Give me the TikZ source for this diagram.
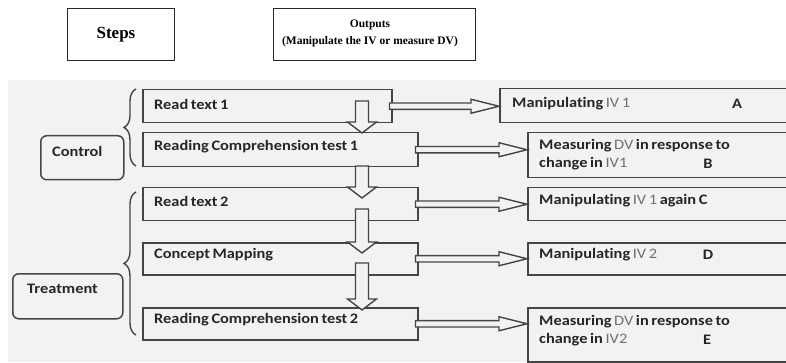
\documentclass[tikz,border=0pt]{standalone}
\usepackage{fontspec}
\setmainfont[FakeStretch=1.13, WordSpace=0.7, Ligatures=NoCommon]{Carlito}
\newfontfamily\tnr{Liberation Serif}
\usetikzlibrary{calc,decorations.pathreplacing}
\definecolor{bg}{HTML}{F2F2F2}
\definecolor{ln}{HTML}{454545}
\definecolor{tx}{HTML}{262626}
\definecolor{ivc}{HTML}{707070}
\newcommand\ivt[1]{{\mdseries\color{ivc}#1}}
\newcommand\hblk[2]{\draw[blk] let \p1=(#1.east), \p2=(#2.west) in
  (\x1-3pt,\y1+3.2pt) -- (\x2-28pt,\y1+3.2pt) -- (\x2-28pt,\y1+7pt) -- (\x2,\y1)
  -- (\x2-28pt,\y1-7pt) -- (\x2-28pt,\y1-3.2pt) -- (\x1-3pt,\y1-3.2pt) -- cycle;}
\newcommand\vblk[2]{\draw[blk] let \p1=(#1), \p2=(#2) in
  (\x1-6.5pt,\y1) -- (\x1+6.5pt,\y1) -- (\x1+6.5pt,\y2+11pt) -- (\x1+14.5pt,\y2+11pt)
  -- (\x1,\y2) -- (\x1-14.5pt,\y2+11pt) -- (\x1-6.5pt,\y2+11pt) -- cycle;}
\begin{document}
\begin{tikzpicture}[x=1pt,y=-1pt,
  font=\fontsize{14.5}{17}\selectfont\bfseries, text=tx,
  sbox/.style={draw=ln, line width=1.5pt, fill=bg, anchor=north west, inner sep=0pt},
  topbox/.style={draw=black!85, line width=1.4pt, fill=white, anchor=north west, inner sep=0pt},
  grp/.style={draw=ln, line width=1.5pt, fill=bg, anchor=north west, inner sep=0pt, rounded corners=6pt},
  lbl/.style={anchor=west, inner sep=0pt},
  blk/.style={draw=ln, fill=bg, line width=1.4pt, line join=miter},
  brc/.style={draw=ln, line width=1.4pt, decorate, decoration={brace, amplitude=12pt}}]
\useasboundingbox (0,0) rectangle (786,363);
\clip (0,0) rectangle (786,363);
% background panel
\fill[bg] (8,80) rectangle (800,362);
% header boxes
\node[topbox, minimum width=107pt, minimum height=52pt] (hs) at (67,8) {};
\node[font=\tnr\fontsize{17}{20}\selectfont\bfseries, text=black] (hst) at (116,35) {Steps};
\node[topbox, minimum width=202pt, minimum height=52pt] (ho) at (273,8) {};
\node[font=\tnr\fontsize{11.5}{17}\selectfont\bfseries, text=black, align=center] (hot) at (370,33.5) {Outputs\\(Manipulate the IV or measure DV)};
% step boxes
\node[sbox, minimum width=249pt, minimum height=33pt] (s1) at (142,89) {};
\node[sbox, minimum width=275pt, minimum height=34pt] (s2) at (142,132) {};
\node[sbox, minimum width=275pt, minimum height=33pt] (s3) at (142,187) {};
\node[sbox, minimum width=275pt, minimum height=32pt] (s4) at (142,242) {};
\node[sbox, minimum width=275pt, minimum height=32pt] (s5) at (142,307) {};
\node[lbl] (t1) at (154,104) {Read text 1};
\node[lbl] (t2) at (154,147) {Reading Comprehension test 1};
\node[lbl] (t3) at (154,201) {Read text 2};
\node[lbl] (t4) at (154,255) {Concept Mapping};
\node[lbl] (t5) at (154,320) {Reading Comprehension test 2};
% output boxes
\node[sbox, minimum width=300pt, minimum height=34pt] (o1) at (499,88) {};
\node[sbox, minimum width=300pt, minimum height=45pt] (o2) at (527,132) {};
\node[sbox, minimum width=300pt, minimum height=33pt] (o3) at (527,187) {};
\node[sbox, minimum width=300pt, minimum height=32pt] (o4) at (527,242) {};
\node[sbox, minimum width=300pt, minimum height=54pt] (o5) at (527,307) {};
\node[lbl] (u1) at (512,104) {Manipulating \ivt{IV 1}};
\node (la) at (737,104) {A};
\node[lbl] (u2a) at (539,146) {Measuring \ivt{DV} in response to};
\node[lbl] (u2b) at (539,164) {change in \ivt{IV1}};
\node (lb) at (708,164) {B};
\node[lbl] (u3) at (539,201) {Manipulating \ivt{IV 1} again C};
\node[lbl] (u4) at (539,255) {Manipulating \ivt{IV 2}};
\node (ld) at (708,255) {D};
\node[lbl] (u5a) at (539,322) {Measuring \ivt{DV} in response to};
\node[lbl] (u5b) at (539,340) {change in \ivt{IV2}};
\node (le) at (707,340) {E};
% groups
\node[grp, minimum width=83pt, minimum height=44pt] (gc) at (40,135) {};
\node[lbl] (gct) at (52,151) {Control};
\node[grp, minimum width=110pt, minimum height=45pt] (gt) at (12,273) {};
\node[lbl] (gtt) at (27,289) {Treatment};
% braces
\coordinate (bc1) at (136,166);
\coordinate (bc2) at (136,89);
\coordinate (bt1) at (136,335);
\coordinate (bt2) at (136,192);
\draw[brc] (bc1) -- (bc2);
\draw[brc] (bt1) -- (bt2);
% vertical block arrows
\coordinate (d1a) at (362,101); \coordinate (d1b) at (362,133);
\coordinate (d2a) at (362,166); \coordinate (d2b) at (362,198);
\coordinate (d3a) at (362,209); \coordinate (d3b) at (362,253);
\coordinate (d4a) at (362,263); \coordinate (d4b) at (362,310);
\vblk{d1a}{d1b}
\vblk{d2a}{d2b}
\vblk{d3a}{d3b}
\vblk{d4a}{d4b}
% horizontal block arrows
\hblk{s1}{o1}
\hblk{s2}{o2}
\hblk{s3}{o3}
\hblk{s4}{o4}
\hblk{s5}{o5}
\end{tikzpicture}
\end{document}
